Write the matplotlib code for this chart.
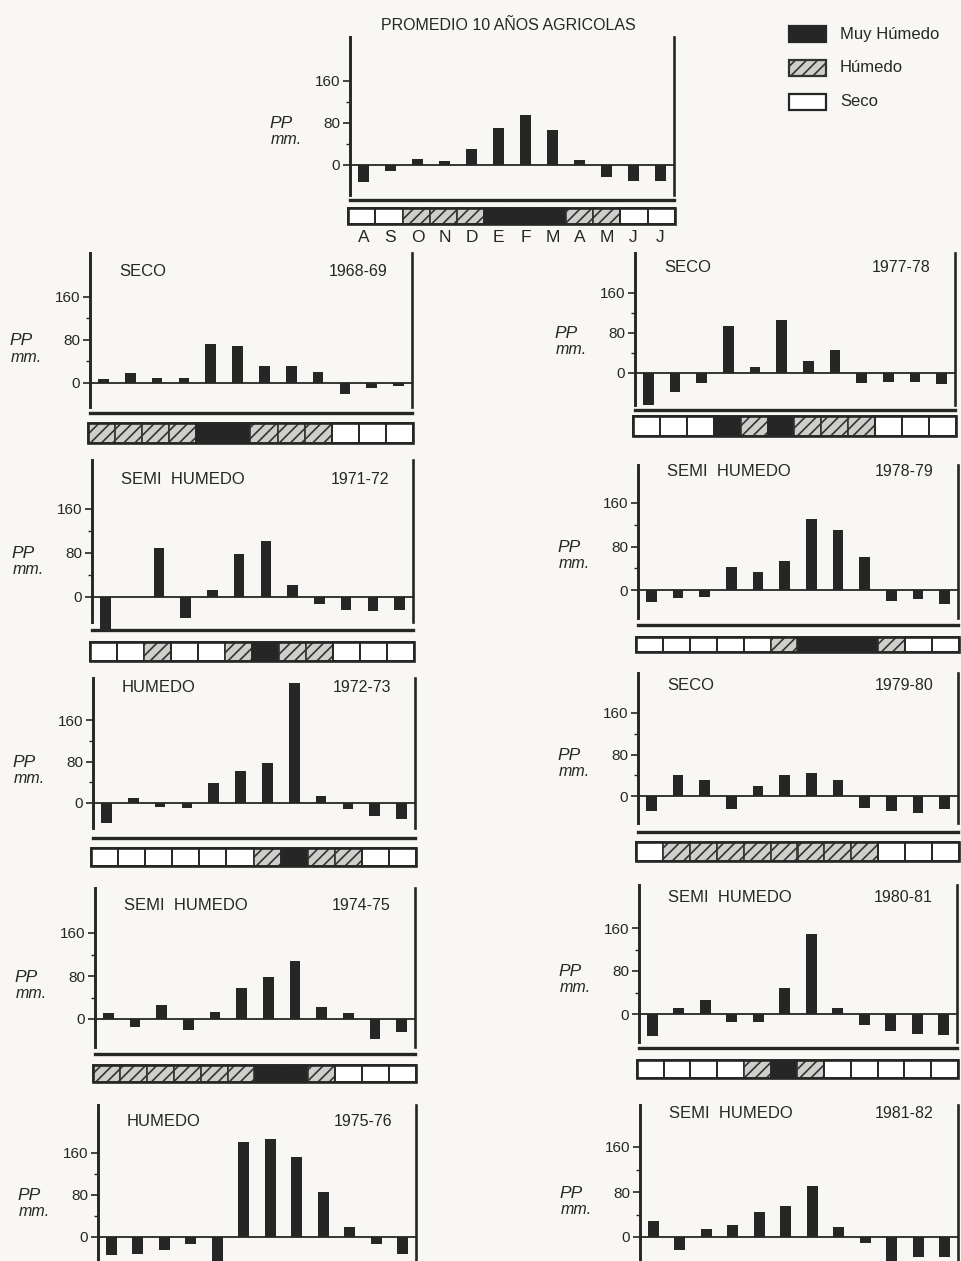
import matplotlib.pyplot as plt
from matplotlib.patches import Rectangle

plt.rcParams['font.family'] = ['Liberation Sans', 'DejaVu Sans']
plt.rcParams['hatch.linewidth'] = 1.2

meses = ["A", "S", "O", "N", "D", "E", "F", "M", "A", "M", "J", "J"]

# precipitacion mensual respecto al promedio (mm)
pp_promedio = [-32, -12, 12, 8, 31, 71, 95, 66, 10, -22, -31, -31]
pp_1968_69 = [8, 19, 10, 10, 73, 69, 32, 32, 20, -21, -9, -6]
pp_1971_72 = [-61, 0, 89, -38, 12, 79, 101, 21, -13, -23, -26, -24]
pp_1972_73 = [-38, 9, -8, -9, 39, 62, 77, 232, 14, -11, -26, -31]
pp_1974_75 = [11, -14, 26, -20, 13, 57, 79, 108, 22, 12, -37, -24]
pp_1975_76 = [-34, -33, -24, -14, -55, 181, 187, 152, 85, 19, -13, -33]
pp_1977_78 = [-63, -37, -19, 95, 13, 106, 24, 47, -19, -17, -17, -22]
pp_1978_79 = [-22, -15, -12, 42, 33, 54, 130, 110, 61, -20, -17, -26]
pp_1979_80 = [-29, 41, 30, -26, 20, 41, 45, 31, -24, -29, -33, -26]
pp_1980_81 = [-41, 11, 26, -14, -14, 48, 148, 11, -20, -32, -37, -39]
pp_1981_82 = [28, -23, 15, 22, 44, 55, 91, 18, -11, -50, -36, -36]

# clase de cada mes: M = muy humedo, H = humedo, S = seco
clase_promedio = list("SSHHHMMMHHSS")
clase_1968_69 = list("HHHHMMHHHSSS")
clase_1971_72 = list("SSHSSHMHHSSS")
clase_1972_73 = list("SSSSSSHMHHSS")
clase_1974_75 = list("HHHHHHMMHSSS")
clase_1977_78 = list("SSSMHMHHHSSS")
clase_1978_79 = list("SSSSSHMMMHSS")
clase_1979_80 = list("SHHHHHHHHSSS")
clase_1980_81 = list("SSSSHMHSSSSS")

leyenda = ["Muy Húmedo", "Húmedo", "Seco"]

W, H = 962, 1261
BG = '#f8f7f3'
INK = '#262626'
HATCH_BG = '#cfcecb'


def fx(x):
    return x / W


def fy(y):
    return 1 - y / H


fig = plt.figure(figsize=(W / 100, H / 100), dpi=100, facecolor=BG)


def panel(vals, clase, x0, x1, top, zero, y160, sb, line_y, st, sbot,
          nombre=None, anio=None, ty=None):
    ppu = (zero - y160) / 160.0
    ymax = (zero - top) / ppu
    ymin = -(line_y - zero) / ppu
    ax = fig.add_axes([fx(x0), fy(line_y), (x1 - x0) / W, (line_y - top) / H])
    ax.set_facecolor('none')
    ax.bar(range(12), vals, width=0.4, color=INK, zorder=3)
    ax.axhline(0, color=INK, lw=1.3, zorder=2)
    ax.set_xlim(-0.5, 11.5)
    ax.set_ylim(ymin, ymax)
    ax.spines['top'].set_visible(False)
    ax.spines['left'].set_bounds(-(sb - zero) / ppu, ymax)
    ax.spines['right'].set_bounds(-(sb - zero) / ppu, ymax)
    ax.spines['left'].set_linewidth(2.1)
    ax.spines['right'].set_linewidth(1.9)
    ax.spines['bottom'].set_linewidth(2.4)
    for s in ax.spines.values():
        s.set_color(INK)
    ax.set_xticks([])
    ax.set_yticks([0, 80, 160])
    ax.set_yticks([40, 120], minor=True)
    ax.tick_params(axis='y', which='major', length=5, width=1.2,
                   labelsize=11, pad=2, colors=INK)
    ax.tick_params(axis='y', which='minor', length=3, width=1.0, colors=INK)

    fig.text(fx(x0 - 81), fy(zero - 80 * ppu + 1), "PP", style='italic',
             fontsize=12.5, va='center', ha='left', color=INK)
    fig.text(fx(x0 - 79), fy(zero - 80 * ppu + 17), "mm.", style='italic',
             fontsize=11.5, va='center', ha='left', color=INK)

    if nombre:
        fig.text(fx(x0 + 29), fy(ty), nombre, fontsize=12, va='center',
                 ha='left', color=INK)
        fig.text(fx(x1 - 24), fy(ty), anio, fontsize=11.5, va='center',
                 ha='right', color=INK)

    if clase is not None:
        axs = fig.add_axes([fx(x0 - 2), fy(sbot), (x1 - x0 + 3) / W, (sbot - st) / H])
        axs.set_xlim(0, 12)
        axs.set_ylim(0, 1)
        axs.axis('off')
        for i, c in enumerate(clase):
            if c == "M":
                r = Rectangle((i, 0), 1, 1, facecolor=INK, edgecolor=INK, lw=1.2)
            elif c == "H":
                r = Rectangle((i, 0), 1, 1, facecolor=HATCH_BG, edgecolor='#333333',
                              lw=1.2, hatch='///')
            else:
                r = Rectangle((i, 0), 1, 1, facecolor='white', edgecolor=INK, lw=1.4)
            r.set_clip_on(False)
            axs.add_patch(r)
        axs.add_patch(Rectangle((0, 0), 12, 1, fill=False, edgecolor=INK,
                                lw=1.9, clip_on=False))
    return ax


# grafico promedio
panel(pp_promedio, clase_promedio, 350, 674, 37, 165, 81, 195, 200, 208, 224)
fig.text(fx(508), fy(25), "PROMEDIO 10 AÑOS AGRICOLAS", fontsize=11.5,
         ha='center', va='center', color=INK)
for i, m in enumerate(meses):
    fig.text(fx(350 + (i + 0.5) * 324 / 12), fy(238), m, fontsize=12.5,
             ha='center', va='center', color=INK)

# columna izquierda
panel(pp_1968_69, clase_1968_69, 90, 412, 253, 383, 297, 407, 413, 423, 443,
      "SECO", "1968-69", 272)
panel(pp_1971_72, clase_1971_72, 92, 413, 460, 597, 509, 622, 630, 642, 661,
      "SEMI  HUMEDO", "1971-72", 480)
panel(pp_1972_73, clase_1972_73, 93, 415, 678, 803, 720, 828, 838, 848, 866,
      "HUMEDO", "1972-73", 688)
panel(pp_1974_75, clase_1974_75, 95, 415, 888, 1019, 933, 1047, 1054, 1065, 1082,
      "SEMI  HUMEDO", "1974-75", 906)
panel(pp_1975_76, None, 98, 416, 1105, 1237, 1153, 1275, 1282, 0, 0,
      "HUMEDO", "1975-76", 1122)

# columna derecha
panel(pp_1977_78, clase_1977_78, 635, 955, 253, 373, 293, 405, 410, 416, 436,
      "SECO", "1977-78", 268)
panel(pp_1978_79, clase_1978_79, 638, 958, 465, 590, 503, 618, 625, 637, 652,
      "SEMI  HUMEDO", "1978-79", 472)
panel(pp_1979_80, clase_1979_80, 638, 958, 673, 796, 713, 823, 832, 842, 861,
      "SECO", "1979-80", 685)
panel(pp_1980_81, clase_1980_81, 639, 957, 885, 1014, 928, 1042, 1048, 1060, 1078,
      "SEMI  HUMEDO", "1980-81", 898)
panel(pp_1981_82, None, 640, 958, 1105, 1237, 1147, 1275, 1282, 0, 0,
      "SEMI  HUMEDO", "1981-82", 1113)

# leyenda
axl = fig.add_axes([fx(780), fy(120), (W - 780) / W, 110 / H])
axl.set_xlim(780, W)
axl.set_ylim(120, 10)
axl.axis('off')
estilos = [dict(facecolor=INK, edgecolor=INK),
           dict(facecolor=HATCH_BG, edgecolor='#333333', hatch='///'),
           dict(facecolor='white', edgecolor=INK)]
for k, (lab, est) in enumerate(zip(leyenda, estilos)):
    yc = 34 + k * 34
    axl.add_patch(Rectangle((789, yc - 8), 37, 16, lw=1.6, **est))
    axl.text(840, yc, lab, fontsize=12, va='center', ha='left', color=INK)

fig.savefig("out.png", dpi=100, facecolor=BG)
